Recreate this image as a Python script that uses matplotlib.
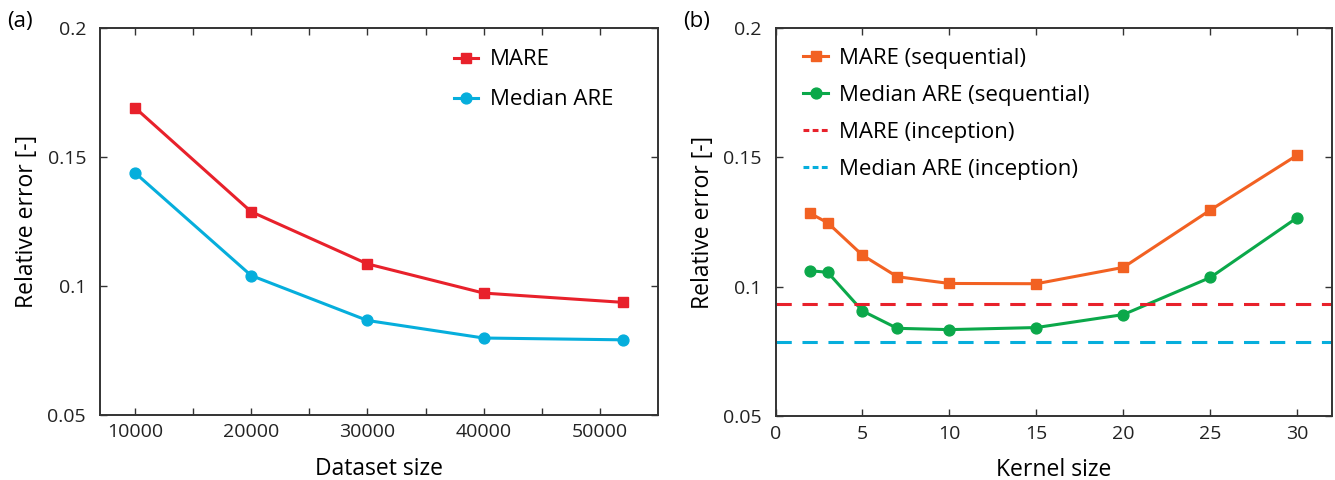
import matplotlib
matplotlib.use('Agg')
import matplotlib.pyplot as plt
import matplotlib as mpl

# panel (a) - error vs dataset size
dataset_size = [10000, 20000, 30000, 40000, 52000]
mare_a = [0.169, 0.1287, 0.1085, 0.0972, 0.0936]
median_a = [0.1438, 0.104, 0.0866, 0.0798, 0.0791]

# panel (b) - error vs kernel size
kernel_size = [2, 3, 5, 7, 10, 15, 20, 25, 30]
mare_seq = [0.1283, 0.1247, 0.1122, 0.1039, 0.1013, 0.1012, 0.1075, 0.1296, 0.1508]
median_seq = [0.1062, 0.1056, 0.0907, 0.0840, 0.0835, 0.0843, 0.0893, 0.1036, 0.1267]
mare_incep = 0.0932
median_incep = 0.0788

yticks = [0.05, 0.1, 0.15, 0.2]
ytick_labels = ['0.05', '0.1', '0.15', '0.2']

red = '#e8212b'
cyan = '#06aedc'
orange = '#f26122'
green = '#0ba84a'

params = {'font.family': ['Open Sans', 'DejaVu Sans'],
          'font.size': 14,
          'axes.linewidth': 1.4,
          'axes.edgecolor': '#333333',
          'xtick.direction': 'in',
          'ytick.direction': 'in',
          'xtick.top': True,
          'ytick.right': True,
          'xtick.major.size': 5,
          'ytick.major.size': 5,
          'xtick.major.width': 1.0,
          'ytick.major.width': 1.0,
          'xtick.major.pad': 6,
          'ytick.major.pad': 10,
          'xtick.color': '#333333',
          'ytick.color': '#333333',
          'xtick.labelcolor': '#222222',
          'ytick.labelcolor': '#222222',
          'xtick.labelsize': 14,
          'ytick.labelsize': 14,
          'legend.frameon': False}
for p in params:
    mpl.rcParams[p] = params[p]

fig = plt.figure(figsize=(13.35, 4.8), dpi=100)
ax1 = fig.add_axes([0.0749, 0.1354, 0.418, 0.8073])
ax2 = fig.add_axes([0.5809, 0.1323, 0.4169, 0.8104])

lw = 2.2
ms = 7.8

ax1.plot(dataset_size, mare_a, '-s', color=red, lw=lw, ms=ms, label='MARE')
ax1.plot(dataset_size, median_a, '-o', color=cyan, lw=lw, ms=ms, label='Median ARE')
ax1.set_xlim(7000, 55000)
ax1.set_ylim(0.05, 0.2)
ax1.set_xticks(range(10000, 55000, 5000))
ax1.set_xticklabels([str(v) if v % 10000 == 0 else '' for v in range(10000, 55000, 5000)])
ax1.set_xlabel('Dataset size', fontsize=16.5, labelpad=11)
ax1.set_ylabel('Relative error [-]', fontsize=16.5, labelpad=6)
ax1.legend(loc='upper right', fontsize=16, handlelength=1.1, handletextpad=0.5,
           labelspacing=0.85, bbox_to_anchor=(0.955, 0.995))

ax2.plot(kernel_size, mare_seq, '-s', color=orange, lw=lw, ms=ms, label='MARE (sequential)')
ax2.plot(kernel_size, median_seq, '-o', color=green, lw=lw, ms=ms, label='Median ARE (sequential)')
ax2.axhline(mare_incep, color=red, lw=lw, ls=(0, (5, 3.5)), label='MARE (inception)')
ax2.axhline(median_incep, color=cyan, lw=lw, ls=(0, (5, 3.5)), label='Median ARE (inception)')
ax2.set_xlim(0, 32)
ax2.set_ylim(0.05, 0.2)
ax2.set_xticks([0, 5, 10, 15, 20, 25, 30])
ax2.set_xlabel('Kernel size', fontsize=16.5, labelpad=11)
ax2.set_ylabel('Relative error [-]', fontsize=16.5, labelpad=6)
leg = ax2.legend(loc='upper left', fontsize=16, handlelength=1.1, handletextpad=0.5,
                 labelspacing=0.72, bbox_to_anchor=(0.014, 1.0))
# shorter dashes in the legend keys, like the original
for line in leg.get_lines()[2:]:
    line.set_dashes([1.9, 1.1])

for ax in (ax1, ax2):
    ax.set_yticks(yticks)
    ax.set_yticklabels(ytick_labels)

fig.text(0.005, 0.955, '(a)', fontsize=16, va='center', ha='left')
fig.text(0.512, 0.955, '(b)', fontsize=16, va='center', ha='left')

fig.savefig('out.png', dpi=100)
